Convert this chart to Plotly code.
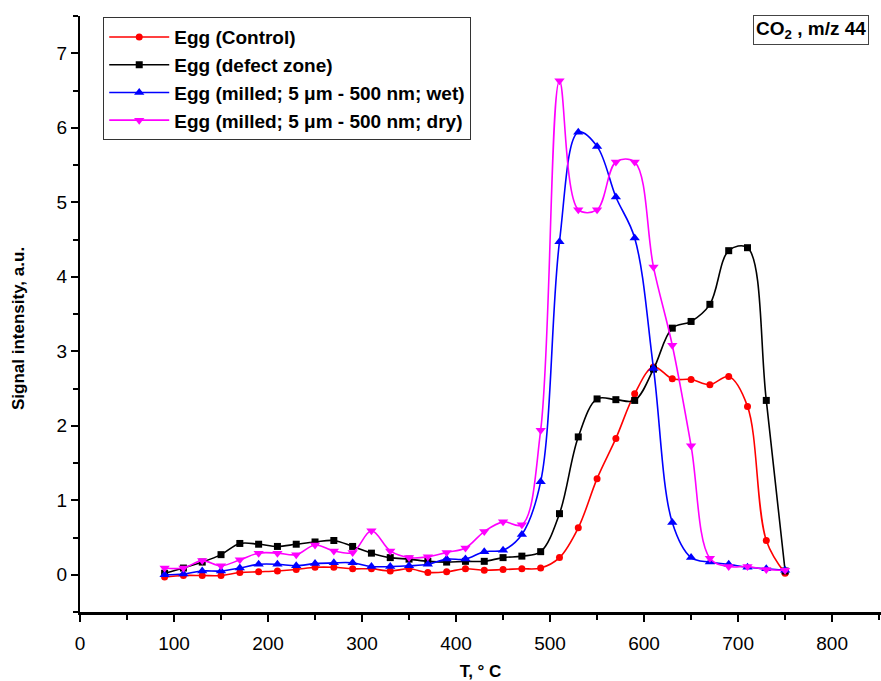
import plotly.graph_objects as go

T = [90, 110, 130, 150, 170, 190, 210, 230, 250, 270, 290, 310, 330, 350, 370, 390, 410,
     430, 450, 470, 490, 510, 530, 550, 570, 590, 610, 630, 650, 670, 690, 710, 730, 750]

control = [-0.03, -0.01, -0.01, -0.01, 0.03, 0.04, 0.05, 0.07, 0.10, 0.10, 0.08, 0.08, 0.05,
           0.08, 0.03, 0.04, 0.08, 0.06, 0.07, 0.08, 0.09, 0.23, 0.63, 1.29, 1.83, 2.43,
           2.79, 2.63, 2.62, 2.55, 2.66, 2.26, 0.46, 0.02]

defect = [0.02, 0.09, 0.17, 0.27, 0.42, 0.41, 0.38, 0.41, 0.44, 0.46, 0.38, 0.29, 0.23,
          0.21, 0.18, 0.17, 0.18, 0.18, 0.23, 0.25, 0.31, 0.82, 1.85, 2.36, 2.35, 2.34,
          2.76, 3.31, 3.40, 3.63, 4.35, 4.39, 2.34, 0.05]

wet = [0.00, 0.01, 0.05, 0.05, 0.09, 0.14, 0.14, 0.12, 0.15, 0.16, 0.16, 0.11, 0.11,
       0.12, 0.14, 0.21, 0.21, 0.31, 0.33, 0.54, 1.25, 4.47, 5.94, 5.75, 5.07, 4.52,
       2.77, 0.70, 0.23, 0.17, 0.14, 0.10, 0.08, 0.06]

dry = [0.09, 0.09, 0.19, 0.12, 0.20, 0.29, 0.29, 0.27, 0.40, 0.32, 0.30, 0.59, 0.32,
       0.23, 0.24, 0.30, 0.36, 0.58, 0.71, 0.67, 1.94, 6.63, 4.90, 4.90, 5.54, 5.54,
       4.13, 3.08, 1.73, 0.22, 0.11, 0.11, 0.07, 0.06]

names = ["Egg (Control)", "Egg (defect zone)",
         "Egg (milled; 5 \u03bcm - 500 nm; wet)", "Egg (milled; 5 \u03bcm - 500 nm; dry)"]
series = [control, defect, wet, dry]
colors = ["#ff0000", "#000000", "#0000ff", "#ff00ff"]
symbols = ["circle", "square", "triangle-up", "triangle-down"]
sizes = [7, 7, 9, 9]

FONT = "Arial, Liberation Sans, sans-serif"

fig = go.Figure()
for n, s, c, sym, sz in zip(names, series, colors, symbols, sizes):
    fig.add_trace(go.Scatter(
        x=T, y=s, name=n, mode="lines+markers",
        line=dict(color=c, width=1.6, shape="spline", smoothing=1.0),
        marker=dict(color=c, symbol=sym, size=sz),
    ))

fig.update_layout(
    width=881, height=681,
    margin=dict(l=80, r=0, t=16, b=69),
    paper_bgcolor="white", plot_bgcolor="white",
    font=dict(family=FONT, size=17, color="black"),
    showlegend=True,
    legend=dict(
        x=0.029, y=0.998, xanchor="left", yanchor="top",
        bordercolor="#333", borderwidth=1, bgcolor="white",
        font=dict(family=FONT, size=19, color="black", weight="bold"),
        itemwidth=60, tracegroupgap=0,
    ),
    xaxis=dict(
        range=[0, 852], showgrid=False, zeroline=False,
        showline=True, linecolor="black", linewidth=3,
        ticks="outside", tickwidth=2, ticklen=7, tickcolor="black",
        tick0=0, dtick=100, ticklabelstandoff=5,
        minor=dict(ticks="outside", ticklen=5, tickwidth=2, tickcolor="black", dtick=50),
        tickfont=dict(size=19),
        title=dict(text="T, \u00b0 C", font=dict(size=17, weight="bold"), standoff=14),
    ),
    yaxis=dict(
        range=[-0.5, 7.5], showgrid=False, zeroline=False,
        showline=True, linecolor="black", linewidth=2,
        ticks="outside", tickwidth=2, ticklen=7, tickcolor="black",
        tick0=0, dtick=1,
        minor=dict(ticks="outside", ticklen=5, tickwidth=2, tickcolor="black", dtick=0.5),
        tickfont=dict(size=19),
    ),
    annotations=[
        dict(
            x=0.840, y=1.002, xref="paper", yref="paper", xanchor="left", yanchor="top",
            text="CO<sub>2</sub> , m/z 44", showarrow=False,
            font=dict(family=FONT, size=19, color="black", weight="bold"),
            bordercolor="#444", borderwidth=1, borderpad=2, bgcolor="white",
        ),
        dict(
            x=19, y=329, xref="paper", yref="paper",
            text="Signal intensity, a.u.", showarrow=False, textangle=-90,
            font=dict(family=FONT, size=17, color="black", weight="bold"),
        ),
    ],
)
# place y-title annotation using pixel coordinates converted to paper units
pw, ph = 881 - 80 - 0, 681 - 16 - 69
fig.layout.annotations[1].x = (19 - 80) / pw
fig.layout.annotations[1].y = (681 - 69 - 329) / ph
fig.layout.annotations[1].xanchor = "center"
fig.layout.annotations[1].yanchor = "middle"

fig.write_html("out.html")
